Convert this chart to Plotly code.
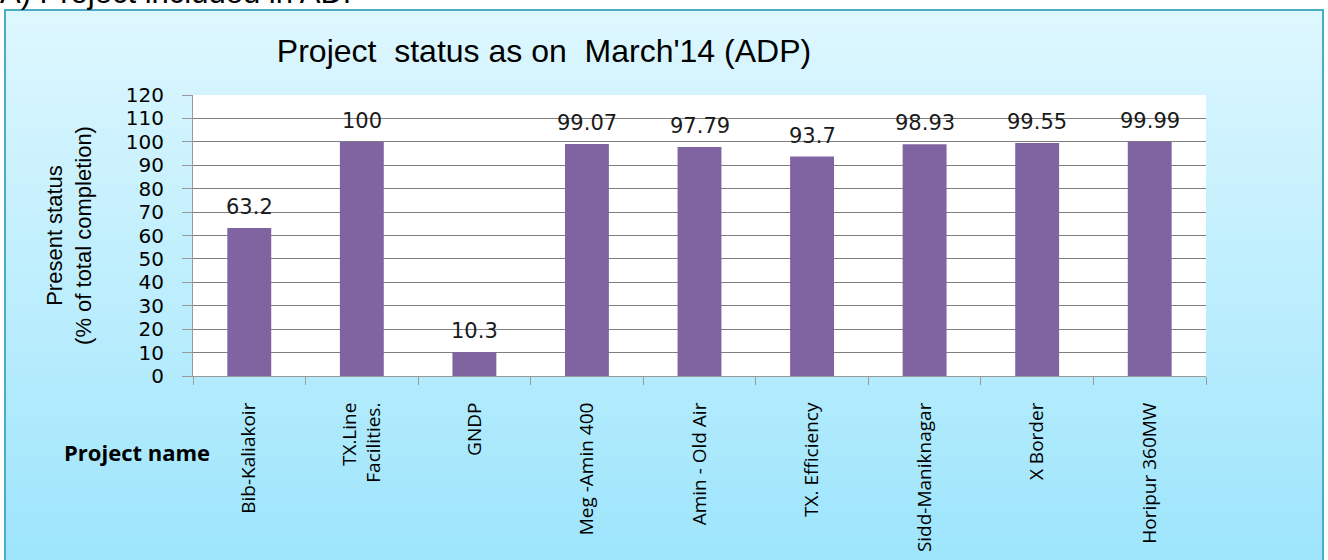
import plotly.graph_objects as go

# Project completion data (ADP, March'14)
projects = [
    "Bib-Kaliakoir",
    "TX.Line<br>Facilities.",
    "GNDP",
    "Meg -Amin 400",
    "Amin - Old Air",
    "TX. Efficiency",
    "Sidd-Maniknagar",
    "X Border",
    "Horipur 360MW",
]
status = [63.2, 100, 10.3, 99.07, 97.79, 93.7, 98.93, 99.55, 99.99]
status_labels = ["63.2", "100", "10.3", "99.07", "97.79", "93.7", "98.93", "99.55", "99.99"]
y_ticks = list(range(0, 121, 10))

# plot area in pixels (used to place the decorations in paper coords)
W, H = 1328, 560
L, R, T, B = 193, 1206, 95, 376


def px_x(px):
    return (px - L) / (R - L)


def px_y(py):
    return (B - py) / (B - T)


fig = go.Figure()

fig.add_trace(
    go.Bar(
        x=projects,
        y=status,
        marker_color="#8064A2",
        marker_line_width=0,
        width=0.39,
        hoverinfo="x+y",
    )
)

# data labels above the bars
for p, v, lab in zip(projects, status, status_labels):
    fig.add_annotation(
        x=p, y=v, text=lab, showarrow=False, yanchor="bottom", yshift=7,
        font=dict(family="DejaVu Sans", size=21, color="#1a1a1a"),
    )

# light cyan gradient panel behind the chart
top_c = (221, 247, 254)
bot_c = (158, 229, 252)
y0, y1 = 10, 562
n = 60
shapes = []
for i in range(n):
    a = y0 + (y1 - y0) * i / n
    b = y0 + (y1 - y0) * (i + 1) / n + 1
    t = i / (n - 1)
    c = tuple(round(top_c[k] + (bot_c[k] - top_c[k]) * t) for k in range(3))
    shapes.append(dict(
        type="rect", xref="paper", yref="paper", layer="below",
        x0=px_x(5), x1=px_x(1323), y0=px_y(a), y1=px_y(b),
        fillcolor="rgb(%d,%d,%d)" % c, line_width=0,
    ))
# white plot area
shapes.append(dict(
    type="rect", xref="paper", yref="paper", layer="below",
    x0=0, x1=1, y0=0, y1=1, fillcolor="white", line_width=0,
))
# panel border
shapes.append(dict(
    type="rect", xref="paper", yref="paper", layer="above",
    x0=px_x(5), x1=px_x(1323), y0=px_y(10), y1=px_y(575),
    line=dict(color="#4BACC6", width=2), fillcolor="rgba(0,0,0,0)",
))

fig.update_layout(
    width=W,
    height=H,
    margin=dict(l=L, r=W - R, t=T, b=H - B),
    paper_bgcolor="white",
    plot_bgcolor="rgba(0,0,0,0)",
    showlegend=False,
    bargap=0.61,
    shapes=shapes,
    title=dict(
        text="Project  status as on  March'14 (ADP)",
        x=544 / W, xanchor="center",
        y=1 - 51 / H, yanchor="middle",
        font=dict(family="Liberation Sans", size=32, color="black"),
    ),
    font=dict(family="Liberation Sans", color="black"),
)

fig.add_annotation(
    text="A) Project included in ADP", xref="paper", yref="paper",
    x=px_x(-2), y=px_y(12), xanchor="left", yanchor="bottom", showarrow=False,
    font=dict(family="Liberation Sans", size=31, color="black"),
)
fig.add_annotation(
    text="<b>Project name</b>", xref="paper", yref="paper",
    x=px_x(212), y=px_y(452), xanchor="right", yanchor="middle", showarrow=False,
    font=dict(family="Open Sans", size=22, color="black"),
)

fig.update_yaxes(
    range=[0, 120],
    tickvals=y_ticks,
    automargin=False,
    showgrid=True,
    gridcolor="#7f7f7f",
    gridwidth=1,
    zeroline=False,
    showline=True,
    linecolor="#9a9a9a",
    ticks="outside",
    ticklen=10,
    tickcolor="#9a9a9a",
    ticklabelstandoff=14,
    tickfont=dict(family="DejaVu Sans", size=20, color="black"),
    title=dict(
        text="Present status<br>(% of total completion)",
        font=dict(family="Liberation Sans", size=22, color="black"),
        standoff=28,
    ),
)
fig.update_xaxes(
    automargin=False,
    showline=True,
    linecolor="#9a9a9a",
    ticks="outside",
    ticklen=8,
    tickcolor="#9a9a9a",
    tickson="boundaries",
    tickangle=-90,
    ticklabelstandoff=18,
    tickfont=dict(family="Open Sans", size=19, color="black"),
)

fig.write_html(
    "out.html",
    config={"displayModeBar": False},
    post_script="document.body.style.margin='0';",
)
